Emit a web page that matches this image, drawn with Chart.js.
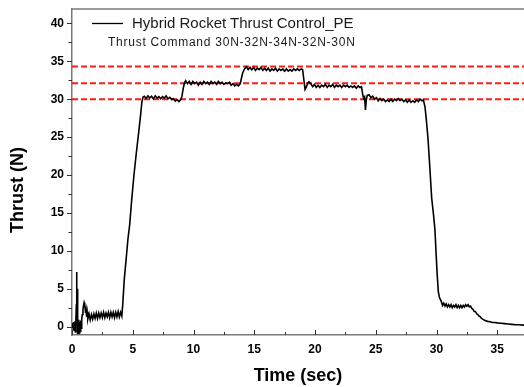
<!DOCTYPE html>
<html>
<head>
<meta charset="utf-8">
<script src="https://cdn.jsdelivr.net/npm/chart.js@4.4.1/dist/chart.umd.min.js"></script>
<style>
  html, body { margin: 0; padding: 0; background: #fff; }
  #wrap { position: relative; width: 524px; height: 387px; overflow: hidden; }
  canvas { position: absolute; left: 0; top: 0; }
  .txt { position: absolute; font-family: "Liberation Sans", Arial, sans-serif; white-space: nowrap; }
  #leg { left: 132px; top: 15px; font-size: 15px; line-height: 16px; color: #1a1a1a; }
  #sub { left: 108px; top: 35px; font-size: 12px; line-height: 14px; letter-spacing: 0.75px; color: #1a1a1a; }
  #ytitle { left: 17px; top: 190px; font-size: 18px; font-weight: bold; line-height: 20px; color: #000;
            transform: translate(-50%, -50%) rotate(-90deg); }
</style>
</head>
<body>
<div id="wrap">
  <canvas id="c" width="524" height="387"></canvas>
  <div class="txt" id="leg">Hybrid Rocket Thrust Control_PE</div>
  <div class="txt" id="sub">Thrust Command 30N-32N-34N-32N-30N</div>
  <div class="txt" id="ytitle">Thrust (N)</div>
</div>
<script>
// ---- data ----
const timeSec = [
  0, 0.04, 0.08, 0.12, 0.16, 0.2, 0.24, 0.28, 0.32, 0.36, 0.38, 0.40, 0.43, 0.45, 0.48, 0.52, 0.56, 0.6, 0.64, 0.68, 0.72, 0.76, 0.8, 0.85, 0.9, 0.95, 1.0, 1.04, 1.08, 1.12, 1.16, 1.2, 1.25,
  1.3, 1.4, 1.5, 1.6, 1.7, 1.8, 1.9, 2.0, 2.1, 2.2, 2.3, 2.4, 2.5, 2.6, 2.7, 2.8, 2.9, 3.0, 3.1, 3.2, 3.3, 3.4, 3.5, 3.6, 3.7, 3.8, 3.9, 4.0, 4.1,
  4.18, 4.3, 4.45, 4.6, 4.75, 4.9, 5.1, 5.3, 5.5, 5.65, 5.75, 5.85,
  5.95, 6.1, 6.25, 6.4, 6.55, 6.7, 6.85, 7.0, 7.15, 7.3, 7.45, 7.6, 7.75, 7.9, 8.05, 8.2, 8.35, 8.5, 8.65, 8.8, 8.95, 9.05, 9.15, 9.25,
  9.35, 9.5, 9.65, 9.8, 9.95, 10.1, 10.25, 10.4, 10.55, 10.7, 10.85, 11.0, 11.15, 11.3, 11.45, 11.6, 11.75, 11.9, 12.05, 12.2, 12.35, 12.5, 12.65, 12.8, 12.95, 13.1, 13.25, 13.4, 13.55, 13.7, 13.85, 13.95, 14.05, 14.2,
  14.35, 14.5, 14.65, 14.8, 14.95, 15.1, 15.25, 15.4, 15.55, 15.7, 15.85, 16.0, 16.15, 16.3, 16.45, 16.6, 16.75, 16.9, 17.05, 17.2, 17.35, 17.5, 17.65, 17.8, 17.95, 18.1, 18.25, 18.4, 18.55, 18.7, 18.85, 18.98, 19.08, 19.18, 19.28, 19.4, 19.5,
  19.65, 19.8, 19.95, 20.1, 20.25, 20.4, 20.55, 20.7, 20.85, 21.0, 21.15, 21.3, 21.45, 21.6, 21.75, 21.9, 22.05, 22.2, 22.35, 22.5, 22.65, 22.8, 22.95, 23.1, 23.25, 23.4, 23.55, 23.7, 23.82, 23.92, 24.0, 24.08, 24.15, 24.22, 24.3, 24.45,
  24.6, 24.75, 24.9, 25.05, 25.2, 25.35, 25.5, 25.65, 25.8, 25.95, 26.1, 26.25, 26.4, 26.55, 26.7, 26.85, 27.0, 27.15, 27.3, 27.45, 27.6, 27.75, 27.9, 28.05, 28.2, 28.35, 28.5, 28.65, 28.8, 28.92,
  29.05, 29.15, 29.3, 29.45, 29.6, 29.75, 29.87, 29.97, 30.05, 30.15, 30.25, 30.4,
  30.5, 30.6, 30.7, 30.8, 30.9, 31.0, 31.1, 31.2, 31.3, 31.4, 31.5, 31.6, 31.7, 31.8, 31.9, 32.0, 32.1, 32.2, 32.3, 32.4, 32.5, 32.6, 32.7, 32.8, 32.9, 33.0, 33.1, 33.2, 33.3, 33.4, 33.5, 33.6, 33.7, 33.8, 33.9, 34.0, 34.2, 34.4, 34.6, 34.8, 35.0, 35.3, 35.6, 35.9, 36.2, 36.5, 36.8, 37.1, 37.2
];
const thrustN = [
  0.3, -0.2, 0.5, -0.4, 0.6, -0.5, 0.7, -0.7, 0.8, 3.0, 7.2, 0.2, 5.0, -1.0, 1.2, -0.9, 0.9, -0.8, 0.6, -0.6, 0.8, -0.2, 1.0, 1.6, 2.2, 2.8, 3.2, 3.0, 2.4, 1.8, 2.2, 1.3, 1.9,
  1.0, 1.7, 0.9, 1.6, 1.0, 1.7, 1.1, 1.8, 1.1, 1.8, 1.2, 1.8, 1.2, 1.9, 1.2, 1.8, 1.3, 1.9, 1.2, 1.9, 1.3, 1.9, 1.2, 1.9, 1.3, 2.0, 1.3, 1.9, 1.4,
  3.0, 6.2, 8.8, 11.5, 13.5, 16.5, 20.0, 23.0, 25.8, 28.0, 29.6, 30.3,
  30.4, 30.1, 30.45, 30.15, 30.4, 30.05, 30.45, 30.15, 30.35, 30.05, 30.35, 30.15, 30.45, 30.05, 30.25, 29.95, 30.05, 29.75, 29.95, 29.7, 29.95, 30.4, 31.4, 32.1,
  32.45, 32.05, 32.35, 31.95, 32.35, 32.05, 32.25, 31.85, 32.25, 31.95, 32.35, 32.05, 32.25, 31.95, 32.35, 32.05, 32.25, 31.95, 32.35, 32.05, 32.25, 31.95, 32.15, 32.05, 32.25, 31.85, 32.05, 31.75, 31.95, 31.75, 32.05, 32.8, 33.5, 34.0,
  34.3, 33.9, 34.2, 33.9, 34.2, 33.8, 34.1, 33.9, 34.2, 33.8, 34.1, 33.8, 34.1, 33.7, 34.0, 33.8, 34.1, 33.7, 34.0, 33.8, 34.0, 33.7, 34.0, 33.7, 33.9, 33.7, 34.0, 33.8, 34.0, 33.8, 34.0, 33.9, 32.6, 31.3, 31.6, 32.1, 32.3,
  32.05, 31.65, 31.95, 31.55, 31.85, 31.55, 31.85, 31.65, 31.95, 31.55, 31.85, 31.65, 31.95, 31.55, 31.85, 31.65, 31.85, 31.55, 31.85, 31.65, 31.85, 31.55, 31.75, 31.55, 31.75, 31.45, 31.75, 31.55, 31.65, 30.7, 30.1, 30.3, 28.6, 29.9, 30.5, 30.6,
  30.2, 30.4, 30.0, 30.2, 29.8, 30.1, 29.8, 30.0, 29.7, 29.9, 29.7, 30.0, 29.7, 30.0, 29.8, 30.1, 29.8, 30.0, 29.7, 29.9, 29.6, 29.9, 29.6, 29.8, 29.6, 29.9, 29.7, 30.0, 29.8, 29.9,
  29.0, 27.5, 24.8, 21.0, 17.0, 14.8, 12.8, 9.5, 7.0, 4.6, 3.8, 3.3,
  2.8, 3.1, 2.7, 3.0, 2.6, 2.9, 2.6, 2.9, 2.5, 2.8, 2.6, 2.9, 2.5, 2.8, 2.5, 2.8, 2.5, 2.8, 2.6, 2.9, 2.7, 2.9, 2.6, 2.7, 2.4, 2.3, 2.0, 2.0, 1.7, 1.6, 1.4, 1.3, 1.1, 1.0, 0.9, 0.8, 0.7, 0.65, 0.55, 0.55, 0.5, 0.45, 0.4, 0.35, 0.3, 0.25, 0.25, 0.2, 0.2
];
const commandLevels = [30.0, 32.1, 34.3];
const xTickValues = [0, 5, 10, 15, 20, 25, 30, 35];
const yTickValues = [0, 5, 10, 15, 20, 25, 30, 35, 40];
const xRange = [0, 37.2];
const yRange = [-1.1, 41.9];
const seriesName = 'Hybrid Rocket Thrust Control_PE';

// ---- build datasets ----
const thrustPoints = timeSec.map((t, i) => ({ x: t, y: thrustN[i] }));
const datasets = [{
  label: seriesName,
  data: thrustPoints,
  borderColor: '#000',
  borderWidth: 1.6,
  pointRadius: 0,
  tension: 0,
  order: 0
}];
commandLevels.forEach(v => {
  datasets.push({
    label: 'cmd ' + v,
    data: [{ x: xRange[0], y: v }, { x: xRange[1], y: v }],
    borderColor: '#ff1a1a',
    borderWidth: 2,
    borderDash: [6, 3],
    pointRadius: 0,
    order: 1
  });
});

const AXIS_COLOR = '#7a7a7a';
const FONT = '"Liberation Sans", Arial, sans-serif';
const TARGET_TOP = 9;

const framePlugin = {
  id: 'frame',
  afterDraw(chart) {
    const { ctx, chartArea: a, scales: { x, y } } = chart;
    ctx.save();
    ctx.strokeStyle = AXIS_COLOR;
    ctx.lineWidth = 1.5;
    ctx.beginPath();
    ctx.moveTo(a.left, a.top);
    ctx.lineTo(a.right, a.top);
    ctx.stroke();
    ctx.strokeStyle = '#333';
    ctx.lineWidth = 1;
    for (let v = 0; v <= xRange[1]; v += 2.5) {
      const px = Math.round(x.getPixelForValue(v)) + 0.5;
      const len = (v % 5 === 0) ? 5 : 3;
      ctx.beginPath();
      ctx.moveTo(px, a.bottom);
      ctx.lineTo(px, a.bottom - len);
      ctx.stroke();
    }
    for (let v = 0; v <= yRange[1]; v += 2.5) {
      const py = Math.round(y.getPixelForValue(v)) + 0.5;
      const len = (v % 5 === 0) ? 5 : 3.5;
      ctx.beginPath();
      ctx.moveTo(a.left, py);
      ctx.lineTo(a.left - len, py);
      ctx.stroke();
    }
    ctx.strokeStyle = '#000';
    ctx.lineWidth = 1.3;
    ctx.beginPath();
    ctx.moveTo(92, 23.5);
    ctx.lineTo(123, 23.5);
    ctx.stroke();
    ctx.restore();
  }
};

const chart = new Chart(document.getElementById('c'), {
  type: 'line',
  data: { datasets },
  options: {
    responsive: false,
    animation: false,
    devicePixelRatio: 1,
    layout: { padding: { top: TARGET_TOP, right: 0, left: 0, bottom: 0 } },
    plugins: { legend: { display: false }, tooltip: { enabled: false } },
    scales: {
      x: {
        type: 'linear',
        min: xRange[0], max: xRange[1],
        afterBuildTicks: s => { s.ticks = xTickValues.map(v => ({ value: v })); },
        afterFit: s => { s.height = 52; s.paddingLeft = 0; s.paddingRight = 0; },
        grid: { display: false, drawTicks: false },
        border: { display: true, color: AXIS_COLOR, width: 1.5 },
        ticks: { color: '#000', padding: 7, maxRotation: 0, font: { family: FONT, size: 12, weight: 'bold' } },
        title: { display: true, text: 'Time (sec)', color: '#000', padding: { top: 0, bottom: 0 },
                 font: { family: FONT, size: 18, weight: 'bold' } }
      },
      y: {
        type: 'linear',
        min: yRange[0], max: yRange[1],
        afterBuildTicks: s => { s.ticks = yTickValues.map(v => ({ value: v })); },
        afterFit: s => { s.width = 72; s.paddingTop = 0; s.paddingBottom = 0; },
        grid: { display: false, drawTicks: false },
        border: { display: true, color: AXIS_COLOR, width: 1.5 },
        ticks: { color: '#000', padding: 8, font: { family: FONT, size: 12, weight: 'bold' } }
      }
    }
  },
  plugins: [framePlugin]
});
const extra = chart.chartArea.top - TARGET_TOP;
if (Math.abs(extra) > 0.5) {
  chart.options.layout.padding.top = Math.max(0, TARGET_TOP - extra);
  chart.update();
}
</script>
</body>
</html>
